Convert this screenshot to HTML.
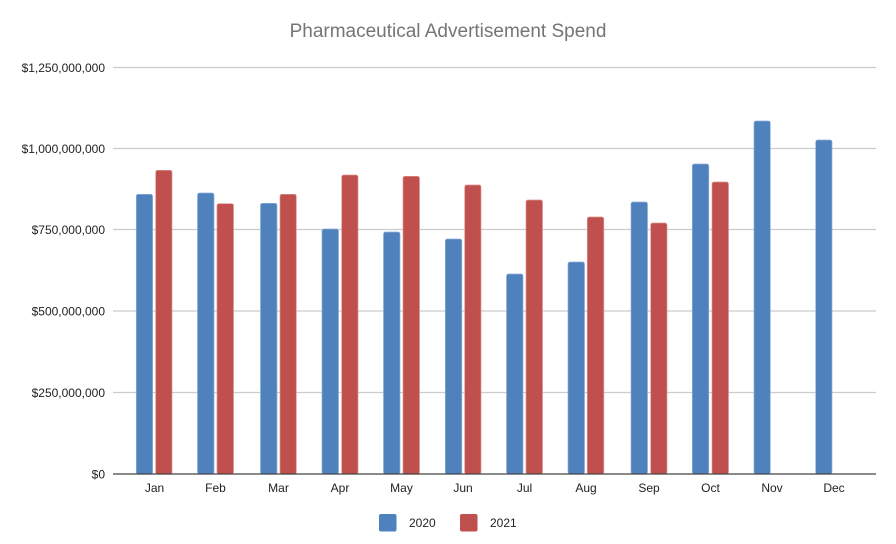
<!DOCTYPE html>
<html><head><meta charset="utf-8"><style>
html,body{margin:0;padding:0;background:#fff;}
svg{display:block;font-family:"Liberation Sans",sans-serif;}
</style></head><body>
<svg width="896" height="544" viewBox="0 0 896 544" xmlns="http://www.w3.org/2000/svg">
<rect width="896" height="544" fill="#fff"/>
<text x="448" y="37" text-anchor="middle" font-size="19" fill="#757575">Pharmaceutical Advertisement Spend</text>
<g stroke="#cccccc" stroke-width="1.3">
<line x1="113" x2="876" y1="67.5" y2="67.5"/>
<line x1="113" x2="876" y1="148.5" y2="148.5"/>
<line x1="113" x2="876" y1="229.5" y2="229.5"/>
<line x1="113" x2="876" y1="311" y2="311"/>
<line x1="113" x2="876" y1="392.5" y2="392.5"/>
</g>
<g font-size="12" fill="#222" text-anchor="end">
<text x="105" y="72">$1,250,000,000</text>
<text x="105" y="153">$1,000,000,000</text>
<text x="105" y="234">$750,000,000</text>
<text x="105" y="315.5">$500,000,000</text>
<text x="105" y="397">$250,000,000</text>
<text x="105" y="478.5">$0</text>
</g>
<g fill="#4f81bd" stroke="#8fb0d8" stroke-width="0.7">
<rect x="136.3" y="194.3" width="16.3" height="280" rx="2"/>
<rect x="197.5" y="193" width="16.5" height="281" rx="2"/>
<rect x="260.5" y="203.3" width="16.5" height="271" rx="2"/>
<rect x="322" y="229" width="16.5" height="245" rx="2"/>
<rect x="383.5" y="232" width="16.5" height="242" rx="2"/>
<rect x="445.3" y="239" width="16.5" height="235" rx="2"/>
<rect x="506.5" y="274" width="16.5" height="200" rx="2"/>
<rect x="568" y="262" width="16.5" height="212" rx="2"/>
<rect x="631" y="202" width="16.5" height="272" rx="2"/>
<rect x="692.3" y="164" width="16.5" height="310" rx="2"/>
<rect x="754" y="121" width="16.3" height="353" rx="2"/>
<rect x="815.7" y="140" width="16.3" height="334" rx="2"/>
</g>
<g fill="#c0504d" stroke="#dc9593" stroke-width="0.7">
<rect x="155.7" y="170.3" width="16.3" height="304" rx="2"/>
<rect x="217" y="203.7" width="16.5" height="270.3" rx="2"/>
<rect x="280" y="194.3" width="16.3" height="280" rx="2"/>
<rect x="341.7" y="175" width="16.3" height="299" rx="2"/>
<rect x="403" y="176.3" width="16.5" height="298" rx="2"/>
<rect x="464.7" y="185" width="16.3" height="289" rx="2"/>
<rect x="526" y="200" width="16.5" height="274" rx="2"/>
<rect x="587.3" y="217" width="16.5" height="257" rx="2"/>
<rect x="650.7" y="223" width="16.3" height="251" rx="2"/>
<rect x="712" y="182" width="16.5" height="292" rx="2"/>
</g>
<line x1="113" x2="876" y1="474" y2="474" stroke="#444" stroke-width="1.3"/>
<g font-size="12" fill="#222" text-anchor="middle">
<text x="154.5" y="492">Jan</text>
<text x="215.5" y="492">Feb</text>
<text x="278.5" y="492">Mar</text>
<text x="340" y="492">Apr</text>
<text x="401.5" y="492">May</text>
<text x="463" y="492">Jun</text>
<text x="524.5" y="492">Jul</text>
<text x="586" y="492">Aug</text>
<text x="649" y="492">Sep</text>
<text x="710.5" y="492">Oct</text>
<text x="772" y="492">Nov</text>
<text x="834" y="492">Dec</text>
</g>
<rect x="379" y="514" width="17.5" height="17.5" rx="2" fill="#4f81bd"/>
<text x="409" y="527" font-size="12" fill="#222">2020</text>
<rect x="460" y="514" width="17.5" height="17.5" rx="2" fill="#c0504d"/>
<text x="490" y="527" font-size="12" fill="#222">2021</text>
</svg>
</body></html>
